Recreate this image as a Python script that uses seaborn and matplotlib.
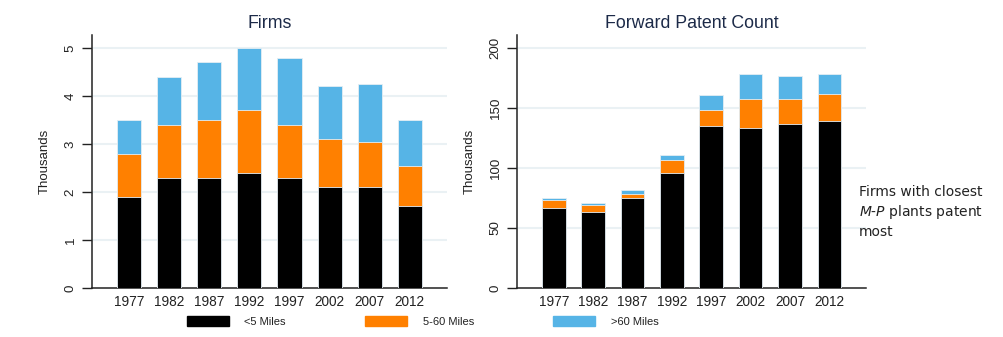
import numpy as np
import pandas as pd
import matplotlib
matplotlib.use("Agg")
import matplotlib.pyplot as plt
import seaborn as sns
from matplotlib.patches import Patch

years = ["1977", "1982", "1987", "1992", "1997", "2002", "2007", "2012"]

# Firms (thousands), by distance band
firms_lt5 = [1.9, 2.3, 2.3, 2.4, 2.3, 2.1, 2.1, 1.7]
firms_5_60 = [0.9, 1.1, 1.2, 1.3, 1.1, 1.0, 0.95, 0.85]
firms_gt60 = [0.7, 1.0, 1.2, 1.3, 1.4, 1.1, 1.2, 0.95]

# Forward patent count (thousands), by distance band
pat_lt5 = [66.4, 63.3, 75.0, 95.6, 135.0, 133.0, 137.0, 139.0]
pat_5_60 = [6.9, 5.9, 3.6, 11.4, 13.6, 24.2, 20.5, 23.0]
pat_gt60 = [1.4, 1.9, 3.4, 4.0, 12.2, 20.8, 18.9, 16.3]

band_labels = ["<5 Miles", "5-60 Miles", ">60 Miles"]
band_colors = ["#000000", "#ff8000", "#56b4e6"]

sns.set_theme(style="white")
plt.rcParams["font.family"] = ["Liberation Sans", "DejaVu Sans"]
plt.rcParams["mathtext.fontset"] = "dejavusans"

fig = plt.figure(figsize=(10.04, 3.37), dpi=100)
ax1 = fig.add_axes([0.0916, 0.1454, 0.3536, 0.7507])
ax2 = fig.add_axes([0.5150, 0.1454, 0.3476, 0.7507])


def stacked(ax, parts, title, ymax, ticks):
    cum = np.cumsum(np.array(parts), axis=0)
    df = pd.DataFrame({"year": years})
    # draw tallest layer first so lower bands sit on top of it
    for k in range(len(parts) - 1, -1, -1):
        df["v"] = cum[k]
        sns.barplot(data=df, x="year", y="v", color=band_colors[k],
                    saturation=1, width=0.6, ax=ax, edgecolor="#e4eef4",
                    linewidth=0.6, zorder=3 + (len(parts) - k))
    ax.set_xlim(-0.93, 7.93)
    ax.set_ylim(0, ymax)
    ax.set_yticks(ticks)
    ax.set_yticklabels([str(t) for t in ticks], rotation=90, va="center")
    for t in ticks:
        if t > 0:
            ax.axhline(t, color="#eaf1f4", lw=1.5, zorder=1)
    ax.set_xlabel("")
    ax.set_ylabel("Thousands", fontsize=9.5, color="#222222", labelpad=10)
    ax.set_title(title, fontsize=12.8, color="#1c2a48", pad=5)
    for s in ["top", "right"]:
        ax.spines[s].set_visible(False)
    for s in ["left", "bottom"]:
        ax.spines[s].set_color("#222222")
        ax.spines[s].set_linewidth(1.1)
    ax.tick_params(axis="y", left=True, length=7, width=1, color="#222222",
                   pad=4, labelsize=9.6, labelcolor="#222222")
    ax.tick_params(axis="x", bottom=False, length=0, pad=5, labelsize=9.8,
                   labelcolor="#222222")


stacked(ax1, [firms_lt5, firms_5_60, firms_gt60], "Firms", 5.27,
        [0, 1, 2, 3, 4, 5])
stacked(ax2, [pat_lt5, pat_5_60, pat_gt60], "Forward Patent Count", 210.8,
        [0, 50, 100, 150, 200])

fig.text(0.8555, 0.371, "Firms with closest\n$M$-$P$ plants patent\nmost",
         fontsize=10, family="DejaVu Sans", color="#222222",
         va="center", ha="left", linespacing=1.3)

handles = [Patch(facecolor=c, edgecolor=c) for c in band_colors]
fig.legend(handles, band_labels, loc="center left",
           bbox_to_anchor=(0.176, 0.046), ncol=3, frameon=False,
           fontsize=8, handlelength=3.8, handleheight=1.0,
           handletextpad=1.4, columnspacing=7.1, labelcolor="#222222")

fig.savefig("out.png", dpi=100)
